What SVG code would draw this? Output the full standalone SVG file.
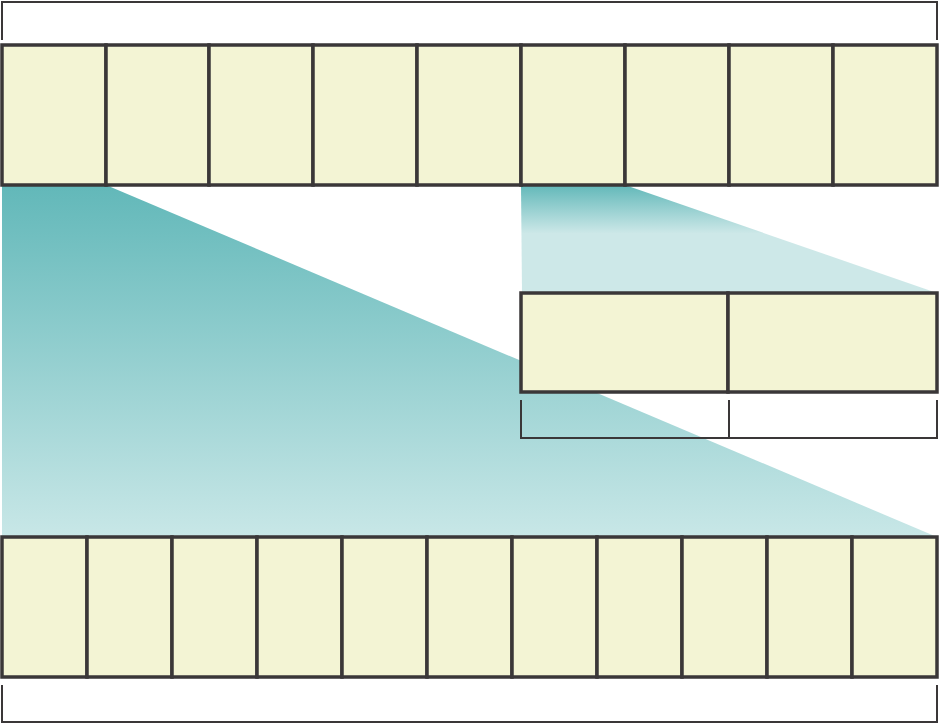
<svg xmlns="http://www.w3.org/2000/svg" width="940" height="725" viewBox="0 0 940 725">
<defs>
<linearGradient id="gBig" x1="0" y1="185" x2="0" y2="537" gradientUnits="userSpaceOnUse">
<stop offset="0" stop-color="#62b8b9"/>
<stop offset="1" stop-color="#c8e7e7"/>
</linearGradient>
<linearGradient id="gSmall" x1="0" y1="185" x2="0" y2="293" gradientUnits="userSpaceOnUse">
<stop offset="0" stop-color="#62b8b9"/>
<stop offset="0.45" stop-color="#cde8e8"/>
<stop offset="1" stop-color="#cde8e8"/>
</linearGradient>
<style>
.cell{fill:#f3f4d4;stroke:#3a3738;stroke-width:3.5}
.brk{fill:none;stroke:#3a3738;stroke-width:2}
</style>
</defs>
<rect width="940" height="725" fill="#ffffff"/>
<g id="connectors">
<polygon points="2,185 106,185 937,537 2,537" fill="url(#gBig)"/>
<polygon points="521,185 625,185 937,293 522,293" fill="url(#gSmall)"/>
</g>
<g id="top-bracket"><polyline class="brk" points="2,40 2,2 937,2 937,40"/></g>
<g id="top-row">
<rect class="cell" x="2" y="45" width="104" height="140"/>
<rect class="cell" x="106" y="45" width="103" height="140"/>
<rect class="cell" x="209" y="45" width="104" height="140"/>
<rect class="cell" x="313" y="45" width="104" height="140"/>
<rect class="cell" x="417" y="45" width="104" height="140"/>
<rect class="cell" x="521" y="45" width="104" height="140"/>
<rect class="cell" x="625" y="45" width="104" height="140"/>
<rect class="cell" x="729" y="45" width="104" height="140"/>
<rect class="cell" x="833" y="45" width="104" height="140"/>
</g>
<g id="middle-pair">
<rect class="cell" x="521" y="293" width="207" height="99"/>
<rect class="cell" x="728" y="293" width="209" height="99"/>
</g>
<g id="middle-brackets">
<polyline class="brk" points="521,400 521,438 937,438 937,400"/>
<line class="brk" x1="729" y1="400" x2="729" y2="438"/>
</g>
<g id="bottom-row">
<rect class="cell" x="2" y="537" width="85" height="140"/>
<rect class="cell" x="87" y="537" width="85" height="140"/>
<rect class="cell" x="172" y="537" width="85" height="140"/>
<rect class="cell" x="257" y="537" width="85" height="140"/>
<rect class="cell" x="342" y="537" width="85" height="140"/>
<rect class="cell" x="427" y="537" width="85" height="140"/>
<rect class="cell" x="512" y="537" width="85" height="140"/>
<rect class="cell" x="597" y="537" width="85" height="140"/>
<rect class="cell" x="682" y="537" width="85" height="140"/>
<rect class="cell" x="767" y="537" width="85" height="140"/>
<rect class="cell" x="852" y="537" width="85" height="140"/>
</g>
<g id="bottom-bracket"><polyline class="brk" points="2,685 2,722 937,722 937,685"/></g>
</svg>
